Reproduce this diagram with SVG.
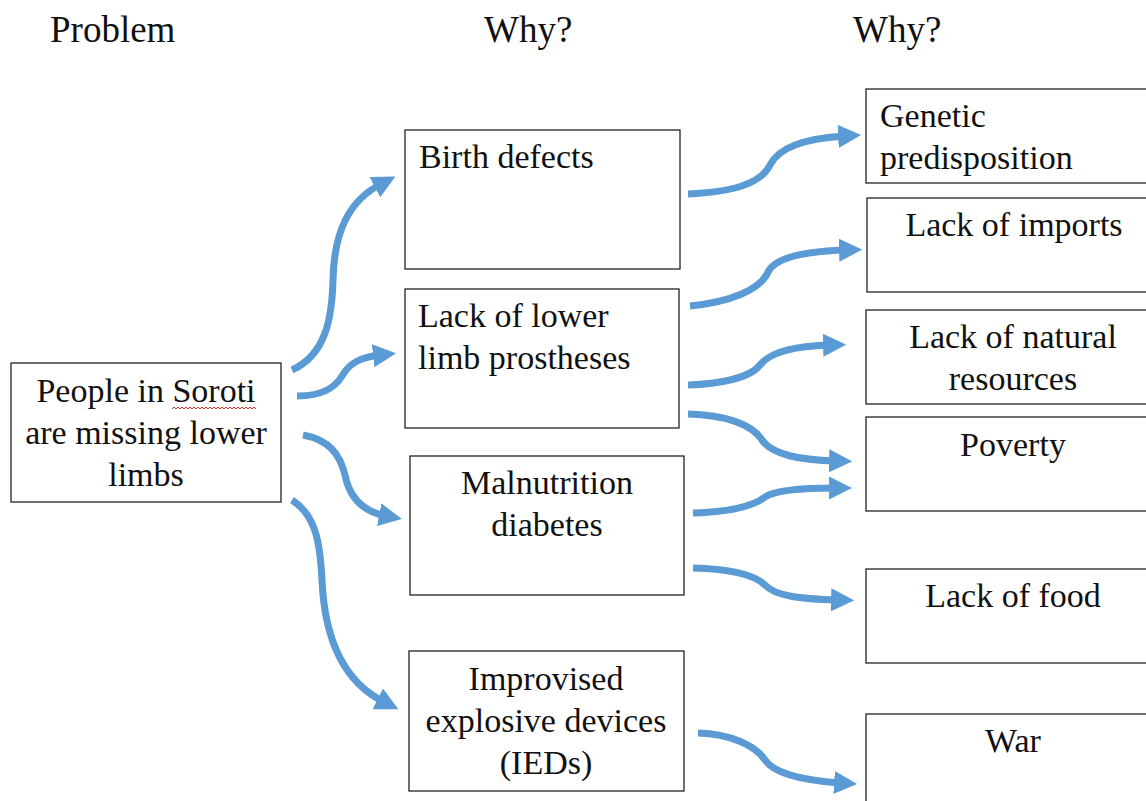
<svg xmlns="http://www.w3.org/2000/svg" width="1146" height="801" viewBox="0 0 1146 801">
<style>
.box{fill:#fff;stroke:#222;stroke-width:1.3}
.t{font-family:"Liberation Serif","Times New Roman",serif;font-size:34px;fill:#111}
.c{text-anchor:middle}
.h{font-family:"Liberation Serif","Times New Roman",serif;font-size:37px;fill:#111}
.arr{fill:none;stroke:#5B9BD5;stroke-width:7;marker-end:url(#ah)}
</style>
<defs>
<marker id="ah" viewBox="0 0 10 10" refX="3" refY="5" markerWidth="3.3" markerHeight="3.3" orient="auto">
<path d="M0,0 L10,5 L0,10 z" fill="#5B9BD5"/>
</marker>
</defs>
<rect width="1146" height="801" fill="#fff"/>
<g id="headings">
<text class="h" x="50" y="42">Problem</text>
<text class="h" x="484" y="42">Why?</text>
<text class="h" x="853" y="42">Why?</text>
</g>
<g id="connectors">
<path class="arr" d="M292,370 C325,355 332,320 333,280 C334,230 350,200 381,184"/>
<path class="arr" d="M297,396 C325,396 336,386 342,376 C350,362 362,357 380,355"/>
<path class="arr" d="M303,435 C330,440 340,455 345,475 C350,500 365,512 386,516"/>
<path class="arr" d="M292,500 C315,515 320,540 322,580 C325,650 350,685 384,702"/>
<path class="arr" d="M688,194 C730,192 760,185 770,165 C780,145 810,138 845,136"/>
<path class="arr" d="M690,306 C730,302 760,290 768,272 C776,256 810,251 846,250"/>
<path class="arr" d="M688,385 C720,384 750,378 760,365 C770,352 795,346 830,345"/>
<path class="arr" d="M688,414 C725,415 752,424 762,440 C772,455 800,460 836,461"/>
<path class="arr" d="M693,513 C730,512 752,507 765,497 C775,490 800,488 836,488"/>
<path class="arr" d="M693,568 C730,569 755,575 765,585 C775,596 800,599 838,600"/>
<path class="arr" d="M698,733 C730,734 755,745 765,760 C775,775 810,781 841,783"/>
</g>
<g id="problem">
<rect class="box" x="11" y="363" width="270" height="139"/>
<text class="t c" x="146" y="402">People in Soroti</text>
<path d="M172,409 l2,-2 2,2 2,-2 2,2 2,-2 2,2 2,-2 2,2 2,-2 2,2 2,-2 2,2 2,-2 2,2 2,-2 2,2 2,-2 2,2 2,-2 2,2 2,-2 2,2 2,-2 2,2 2,-2 2,2 2,-2 2,2 2,-2 2,2 2,-2 2,2 2,-2 2,2 2,-2 2,2 2,-2 2,2 2,-2 2,2 2,-2 2,2" fill="none" stroke="#d33" stroke-width="1"/>
<text class="t c" x="146" y="444">are missing lower</text>
<text class="t c" x="146" y="486">limbs</text>
</g>
<g id="birth">
<rect class="box" x="405" y="130" width="275" height="139"/>
<text class="t" x="419" y="168">Birth defects</text>
</g>
<g id="prostheses">
<rect class="box" x="405" y="289" width="274" height="139"/>
<text class="t" x="418" y="327">Lack of lower</text>
<text class="t" x="418" y="369">limb prostheses</text>
</g>
<g id="malnutrition">
<rect class="box" x="410" y="456" width="274" height="139"/>
<text class="t c" x="547" y="494">Malnutrition</text>
<text class="t c" x="547" y="536">diabetes</text>
</g>
<g id="ieds">
<rect class="box" x="409" y="651" width="275" height="140"/>
<text class="t c" x="546" y="690">Improvised</text>
<text class="t c" x="546" y="732">explosive devices</text>
<text class="t c" x="546" y="774">(IEDs)</text>
</g>
<g id="genetic">
<rect class="box" x="866" y="89" width="290" height="94"/>
<text class="t" x="880" y="127">Genetic</text>
<text class="t" x="880" y="169">predisposition</text>
</g>
<g id="imports">
<rect class="box" x="867" y="198" width="290" height="94"/>
<text class="t c" x="1014" y="236">Lack of imports</text>
</g>
<g id="natural">
<rect class="box" x="866" y="310" width="290" height="94"/>
<text class="t c" x="1013" y="348">Lack of natural</text>
<text class="t c" x="1013" y="390">resources</text>
</g>
<g id="poverty">
<rect class="box" x="866" y="417" width="290" height="94"/>
<text class="t c" x="1013" y="456">Poverty</text>
</g>
<g id="food">
<rect class="box" x="866" y="569" width="290" height="94"/>
<text class="t c" x="1013" y="607">Lack of food</text>
</g>
<g id="war">
<rect class="box" x="866" y="714" width="290" height="120"/>
<text class="t c" x="1013" y="752">War</text>
</g>
</svg>
